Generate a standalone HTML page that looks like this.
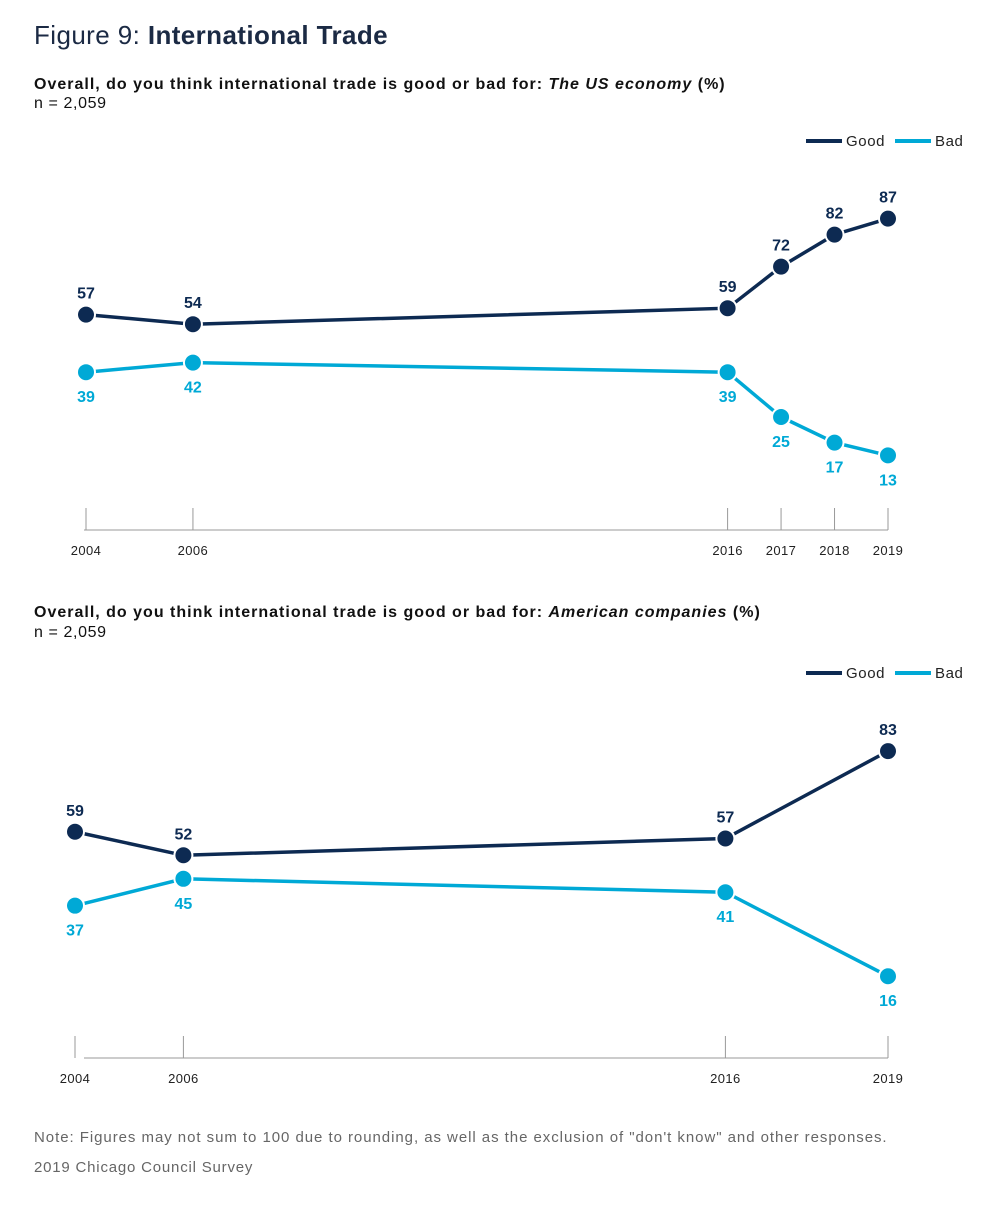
<!DOCTYPE html>
<html><head><meta charset="utf-8"><style>
body{margin:0;background:#fff;font-family:"Liberation Sans",sans-serif;}
svg text{font-family:"Liberation Sans",sans-serif;}
</style></head><body>
<svg id="fig" width="1004" height="1200" xmlns="http://www.w3.org/2000/svg">
<text x="34" y="44" font-size="26" letter-spacing="0.4" fill="#1b2a44">Figure 9: <tspan font-weight="bold">International Trade</tspan></text>
<text x="34" y="89" font-size="16" letter-spacing="1" font-weight="bold" fill="#111">Overall, do you think international trade is good or bad for: <tspan font-style="italic">The US economy</tspan> (%)</text>
<text x="34" y="108" font-size="16" letter-spacing="0.6" fill="#111">n = 2,059</text>
<text x="34" y="617" font-size="16" letter-spacing="1" font-weight="bold" fill="#111">Overall, do you think international trade is good or bad for: <tspan font-style="italic">American companies</tspan> (%)</text>
<text x="34" y="637" font-size="16" letter-spacing="0.6" fill="#111">n = 2,059</text>
<text x="34" y="1142" font-size="15" letter-spacing="0.95" fill="#666">Note: Figures may not sum to 100 due to rounding, as well as the exclusion of "don't know" and other responses.</text>
<text x="34" y="1172" font-size="15" letter-spacing="0.8" fill="#666">2019 Chicago Council Survey</text>
<g id="c1"></g><g id="c2"></g>
</svg>
<script>
const years1=[2004,2006,2016,2017,2018,2019];
const good1=[57,54,59,72,82,87];
const bad1=[39,42,39,25,17,13];
const years2=[2004,2006,2016,2019];
const good2=[59,52,57,83];
const bad2=[37,45,41,16];
const NAVY="#0d2a52",CYAN="#00a9d6";
const NS="http://www.w3.org/2000/svg";
function mk(p,t,a){const e=document.createElementNS(NS,t);for(const k in a)e.setAttribute(k,a[k]);p.appendChild(e);return e;}
function draw(g,pre,years,good,bad,x0,x1,y0,k,axisY,legY,tickStart){
  const xs=y=>x0+(y-2004)*(x1-x0)/15;
  const ys=v=>y0-v*k;
  let l=mk(g,'line',{x1:806,y1:legY,x2:842,y2:legY,stroke:NAVY,'stroke-width':4});
  
  let t=mk(g,'text',{x:846,y:legY+5,'font-size':15,'letter-spacing':0.6,fill:'#222'});t.textContent='Good';
  
  l=mk(g,'line',{x1:895,y1:legY,x2:931,y2:legY,stroke:CYAN,'stroke-width':4});
  
  t=mk(g,'text',{x:935,y:legY+5,'font-size':15,'letter-spacing':0.6,fill:'#222'});t.textContent='Bad';
  
  l=mk(g,'line',{x1:tickStart,y1:axisY,x2:xs(2019),y2:axisY,stroke:'#999','stroke-width':1});
  
  years.forEach(y=>{
    const tk=mk(g,'line',{x1:xs(y),y1:axisY-22,x2:xs(y),y2:axisY,stroke:'#999','stroke-width':1});
    
    const tl=mk(g,'text',{x:xs(y),y:axisY+25,'font-size':13,'letter-spacing':0.4,fill:'#222','text-anchor':'middle'});tl.textContent=y;
    
  });
  [[good,NAVY,'good',-16],[bad,CYAN,'bad',30]].forEach(([vals,c,nm,off])=>{
    const pl=mk(g,'polyline',{points:vals.map((v,i)=>xs(years[i])+','+ys(v)).join(' '),fill:'none',stroke:c,'stroke-width':3.5});
    
    vals.forEach((v,i)=>{
      const cc=mk(g,'circle',{cx:xs(years[i]),cy:ys(v),r:9,fill:c,stroke:'#fff','stroke-width':2});
      
      const tx=mk(g,'text',{x:xs(years[i]),y:ys(v)+off,'font-size':16,'font-weight':'bold',fill:c,'text-anchor':'middle'});tx.textContent=v;
      
    });
  });
}
draw(document.getElementById('c1'),'chart1-',years1,good1,bad1,86,888,497,3.2,530,141,84);
draw(document.getElementById('c2'),'chart2-',years2,good2,bad2,75,888,1030,3.36,1058,673,84);
</script>
</body></html>
